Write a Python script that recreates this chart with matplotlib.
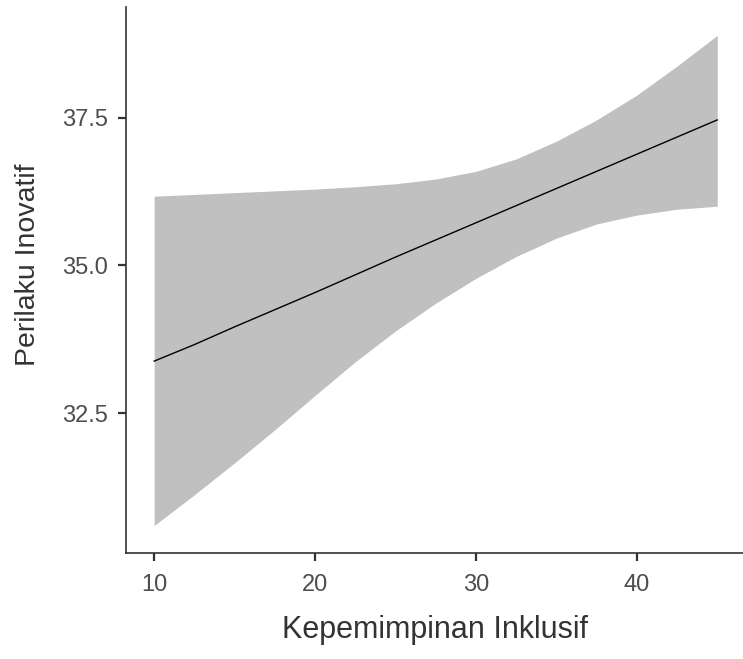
import matplotlib
matplotlib.use("Agg")
import matplotlib.pyplot as plt
import numpy as np

# predicted values with confidence band
x_vals = [10, 12.5, 15, 17.5, 20, 22.5, 25, 27.5, 30, 32.5, 35, 37.5, 40, 42.5, 45]
fit = [33.38, 33.66, 33.96, 34.25, 34.54, 34.84, 35.14, 35.43, 35.72, 36.01, 36.30, 36.59, 36.88, 37.17, 37.46]
upper = [36.17, 36.20, 36.23, 36.26, 36.29, 36.33, 36.38, 36.46, 36.59, 36.80, 37.10, 37.46, 37.88, 38.37, 38.89]
lower = [30.60, 31.12, 31.66, 32.22, 32.80, 33.37, 33.89, 34.36, 34.78, 35.15, 35.46, 35.70, 35.85, 35.95, 36.00]

x_ticks = [10, 20, 30, 40]
y_ticks = [32.5, 35.0, 37.5]
y_ticklabels = ["32.5", "35.0", "37.5"]

plt.rcParams['font.family'] = ['Liberation Sans', 'DejaVu Sans']

fig = plt.figure(figsize=(7.43, 6.59), dpi=100)
ax = fig.add_axes([0.1696, 0.1613, 0.8304, 0.8281])

ax.fill_between(x_vals, lower, upper, color='#c0c0c0', linewidth=0)
ax.plot(x_vals, fit, color='black', linewidth=1.0)

ax.set_xlim(8.25, 46.6)
ax.set_ylim(30.14, 39.37)
ax.set_xticks(x_ticks)
ax.set_yticks(y_ticks)
ax.set_yticklabels(y_ticklabels)

for side in ['top', 'right']:
    ax.spines[side].set_visible(False)
for side in ['left', 'bottom']:
    ax.spines[side].set_color('#333333')
    ax.spines[side].set_linewidth(1.2)

ax.tick_params(axis='both', length=6, width=1.6, color='#333333',
               labelsize=17, labelcolor='#4d4d4d', pad=7)
ax.tick_params(axis='x', pad=9)

ax.set_xlabel("Kepemimpinan Inklusif", fontsize=22, color='#333333', labelpad=14)
ax.set_ylabel("Perilaku Inovatif", fontsize=20.5, color='#333333', labelpad=15)
ax.yaxis.label.set_y(0.527)

fig.savefig("out.png", dpi=100)
